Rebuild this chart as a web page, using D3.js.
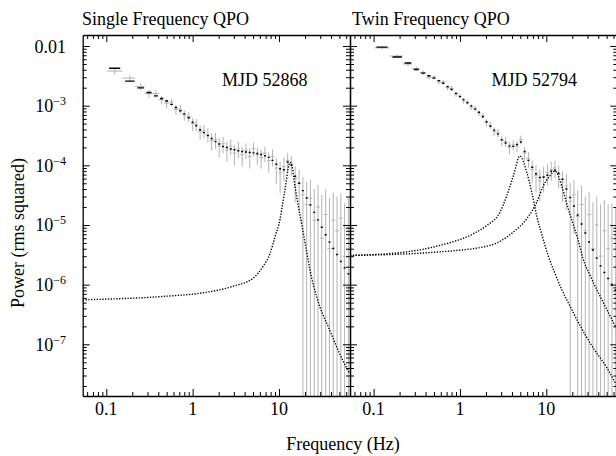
<!DOCTYPE html>
<html>
<head>
<meta charset="utf-8">
<script src="https://cdn.jsdelivr.net/npm/d3@7"></script>
<style>
  body { margin: 0; background: #fff; }
  svg { display: block; font-family: "Liberation Serif", "Times New Roman", serif; }
</style>
</head>
<body>
<svg id="chart" width="616" height="456"></svg>
<script>
// frequency bins (Hz), shared by both observations
const freqBins = [0.125, 0.1875, 0.25, 0.3125, 0.375, 0.4375, 0.5, 0.57, 0.64, 0.72,
  0.8, 0.9, 1.0, 1.1, 1.22, 1.35, 1.5, 1.66, 1.84, 2.03,
  2.25, 2.49, 2.76, 3.05, 3.38, 3.74, 4.14, 4.58, 5.07, 5.61,
  6.21, 6.87, 7.6, 8.41, 9.31, 10.3, 11.4, 12.6, 13.9, 15.4,
  17.1, 18.9, 20.9, 23.1, 25.6, 28.3, 31.3, 34.7, 38.4, 42.5,
  47.0, 52.0, 57.5, 63.6];

// MJD 52868 (single QPO)
const singlePower = [3.8e-3, 2.9e-3, 2.1e-3, 1.6e-3, 1.6e-3, 1.25e-3, 1.1e-3, 1.15e-3, 8.6e-4, 8.8e-4,
  7.0e-4, 6.6e-4, 5.0e-4, 4.9e-4, 3.7e-4, 3.8e-4, 3.3e-4, 2.6e-4, 2.7e-4, 2.1e-4,
  2.3e-4, 1.8e-4, 2.1e-4, 1.6e-4, 1.9e-4, 1.5e-4, 1.8e-4, 1.4e-4, 1.9e-4, 1.5e-4,
  1.35e-4, 1.6e-4, 1.2e-4, 1.4e-4, 9.0e-5, 7.5e-5, 9.5e-5, 1.2e-4, 1.05e-4, 6.0e-5,
  5.0e-5, 3.2e-5, 2.2e-5, 2.8e-5, 1.2e-5, 2.0e-5, 6.0e-6, 1.5e-5, 4.0e-6, 1.2e-5,
  8.0e-6, 1.3e-5, 3.0e-6, 9.0e-6];
const singleErr = [4.5e-4, 3.5e-4, 2.8e-4, 2.4e-4, 2.2e-4, 2.0e-4, 1.9e-4, 1.7e-4, 1.6e-4, 1.5e-4,
  1.4e-4, 1.3e-4, 1.2e-4, 1.1e-4, 1.0e-4, 9.5e-5, 9.0e-5, 8.5e-5, 8.0e-5, 7.5e-5,
  7.0e-5, 6.5e-5, 6.2e-5, 6.0e-5, 5.8e-5, 5.5e-5, 5.3e-5, 5.2e-5, 5.0e-5, 4.8e-5,
  4.7e-5, 4.6e-5, 4.5e-5, 4.4e-5, 4.2e-5, 4.1e-5, 4.0e-5, 3.9e-5, 3.8e-5, 3.6e-5,
  3.4e-5, 3.2e-5, 3.0e-5, 2.9e-5, 2.8e-5, 2.7e-5, 2.6e-5, 2.5e-5, 2.4e-5, 2.3e-5,
  2.2e-5, 2.1e-5, 2.0e-5, 2.0e-5];
const singleModel = [4.25e-3, 2.58e-3, 1.99e-3, 1.66e-3, 1.46e-3, 1.32e-3, 1.20e-3, 1.05e-3, 9.3e-4, 8.2e-4,
  7.3e-4, 6.27e-4, 5.28e-4, 4.61e-4, 3.96e-4, 3.53e-4, 3.15e-4, 2.81e-4, 2.50e-4, 2.28e-4,
  2.07e-4, 1.99e-4, 1.88e-4, 1.82e-4, 1.76e-4, 1.71e-4, 1.67e-4, 1.64e-4, 1.62e-4, 1.58e-4,
  1.52e-4, 1.45e-4, 1.36e-4, 1.21e-4, 1.04e-4, 8.75e-5, 8.42e-5, 1.14e-4, 1.00e-4, 6.56e-5,
  5.02e-5, 3.77e-5, 2.83e-5, 2.16e-5, 1.63e-5, 1.22e-5, 9.16e-6, 6.87e-6, 5.16e-6, 4.03e-6,
  3.20e-6, 2.45e-6, 1.91e-6, 1.52e-6];
const singleQpoFreq = [0.0533, 0.5, 1.22, 2.94, 5.0, 6.53, 7.87, 8.99, 10.3, 11.1,
  12.1, 12.7, 13.4, 14.2, 14.9, 16.2, 17.5, 19.0, 20.6, 22.9, 27.6, 39.0, 50.9, 64.7];
const singleQpoPower = [5.57e-7, 6.41e-7, 7.19e-7, 9.40e-7, 1.28e-6, 2.02e-6, 3.32e-6, 6.37e-6, 1.27e-5, 2.43e-5,
  5.22e-5, 8.57e-5, 1.12e-4, 9.62e-5, 5.85e-5, 2.72e-5, 1.48e-5, 7.7e-6, 4.03e-6, 1.73e-6,
  5.94e-7, 1.68e-7, 6.72e-8, 3.37e-8];

// MJD 52794 (twin QPO)
const twinPower = [9.3e-3, 6.8e-3, 5.0e-3, 4.2e-3, 3.6e-3, 3.0e-3, 3.0e-3, 2.5e-3, 2.5e-3, 2.0e-3,
  1.95e-3, 1.55e-3, 1.45e-3, 1.2e-3, 1.15e-3, 9.5e-4, 9.0e-4, 7.5e-4, 6.8e-4, 5.2e-4,
  4.7e-4, 3.7e-4, 3.5e-4, 2.6e-4, 2.5e-4, 2.0e-4, 2.2e-4, 2.1e-4, 2.7e-4, 1.6e-4,
  1.3e-4, 8.5e-5, 6.8e-5, 5.5e-5, 6.5e-5, 7.5e-5, 8.5e-5, 9.0e-5, 7.0e-5, 5.2e-5,
  4.5e-5, 2.5e-5, 3.2e-5, 1.4e-5, 2.2e-5, 8.0e-6, 1.5e-5, 4.0e-6, 1.0e-5, 3.0e-6,
  8.0e-6, 4.0e-6, 6.0e-6, 2.0e-6];
const twinErr = [6.0e-4, 5.0e-4, 4.0e-4, 3.4e-4, 3.0e-4, 2.7e-4, 2.5e-4, 2.2e-4, 2.0e-4, 1.8e-4,
  1.7e-4, 1.5e-4, 1.35e-4, 1.2e-4, 1.1e-4, 1.0e-4, 9.0e-5, 8.5e-5, 7.5e-5, 7.0e-5,
  6.2e-5, 5.8e-5, 5.5e-5, 5.0e-5, 4.8e-5, 4.5e-5, 4.4e-5, 4.4e-5, 4.5e-5, 4.2e-5,
  3.8e-5, 3.5e-5, 3.3e-5, 3.0e-5, 3.0e-5, 3.0e-5, 3.0e-5, 3.0e-5, 2.9e-5, 2.8e-5,
  2.7e-5, 2.6e-5, 2.5e-5, 2.4e-5, 2.3e-5, 2.2e-5, 2.1e-5, 2.0e-5, 2.0e-5, 1.9e-5,
  1.8e-5, 1.8e-5, 1.7e-5, 1.7e-5];
const twinModel = [9.6e-3, 6.54e-3, 5.20e-3, 4.04e-3, 3.51e-3, 3.18e-3, 2.90e-3, 2.63e-3, 2.37e-3, 2.09e-3,
  1.87e-3, 1.61e-3, 1.42e-3, 1.27e-3, 1.12e-3, 9.93e-4, 8.75e-4, 7.77e-4, 6.52e-4, 5.38e-4,
  4.53e-4, 3.89e-4, 3.34e-4, 2.70e-4, 2.37e-4, 2.12e-4, 2.08e-4, 2.23e-4, 2.46e-4, 1.71e-4,
  1.21e-4, 9.27e-5, 7.23e-5, 6.27e-5, 6.32e-5, 6.82e-5, 7.94e-5, 8.26e-5, 7.36e-5, 5.85e-5,
  4.01e-5, 2.89e-5, 2.08e-5, 1.47e-5, 1.04e-5, 7.34e-6, 5.19e-6, 3.81e-6, 2.80e-6, 2.06e-6,
  1.60e-6, 1.27e-6, 1.01e-6, 8.14e-7];
const twinQpo1Freq = [0.0533, 0.242, 0.588, 1.43, 2.04, 2.91, 3.48, 4.15, 4.96, 5.93,
  6.78, 7.74, 9.16, 10.5, 12.6, 15.2, 18.8, 22.7, 34.8, 50.1, 64.2];
const twinQpo1Power = [3.08e-6, 3.55e-6, 4.56e-6, 7.14e-6, 9.81e-6, 1.64e-5, 3.09e-5, 6.64e-5, 1.43e-4, 7.65e-5,
  3.56e-5, 1.42e-5, 5.90e-6, 3.08e-6, 1.55e-6, 8.07e-7, 4.38e-7, 2.56e-7, 8.77e-8, 4.08e-8, 2.13e-8];
const twinQpo2Freq = [0.0533, 0.588, 2.23, 4.15, 5.93, 7.74, 9.24, 11.0, 12.6, 15.1,
  16.9, 19.9, 23.3, 26.6, 32.1, 41.9, 51.9, 64.2];
const twinQpo2Power = [3.08e-6, 3.55e-6, 4.56e-6, 7.62e-6, 1.27e-5, 2.40e-5, 4.53e-5, 6.64e-5, 8.04e-5, 4.53e-5,
  2.52e-5, 1.17e-5, 5.68e-6, 2.74e-6, 1.43e-6, 6.41e-7, 3.48e-7, 1.89e-7];

// axes
const xTicks = [0.1, 1, 10];
const xTickLabels = ["0.1", "1", "10"];
const yTicks = [0.01, 1e-3, 1e-4, 1e-5, 1e-6, 1e-7];
const yTickLabels = ["0.01", "10|\u22123", "10|\u22124", "10|\u22125", "10|\u22126", "10|\u22127"];

const svg = d3.select("#chart");
const plotTop = 35, plotBottom = 396;
const xDomain = [0.0533, 66.4];
const yDomain = [1.36e-8, 0.0153];

const y = d3.scaleLog().domain(yDomain).range([plotBottom, plotTop]);

const panels = [
  {id: "single", x0: 82.7, x1: 350, power: singlePower, err: singleErr, model: singleModel,
   comps: [[singleQpoFreq, singleQpoPower]],
   title: "Single Frequency QPO", titleX: 82, mjd: "MJD 52868", mjdX: 222, yLabels: true},
  {id: "twin", x0: 350, x1: 617.3, power: twinPower, err: twinErr, model: twinModel,
   comps: [[twinQpo1Freq, twinQpo1Power], [twinQpo2Freq, twinQpo2Power]],
   title: "Twin Frequency QPO", titleX: 352, mjd: "MJD 52794", mjdX: 491.5, yLabels: false}
];

// bin edges from neighbouring bin centres (geometric midpoints)
const edges = freqBins.map((f, i) => {
  const lo = i > 0 ? Math.sqrt(freqBins[i - 1] * f) : f * f / Math.sqrt(f * freqBins[1]);
  const hi = i < freqBins.length - 1 ? Math.sqrt(f * freqBins[i + 1]) : f * f / Math.sqrt(freqBins[i - 1] * f);
  return [lo, hi];
});

panels.forEach(p => {
  const x = d3.scaleLog().domain(xDomain).range([p.x0, p.x1]);

  svg.append("clipPath").attr("id", "clip-" + p.id)
    .append("rect")
    .attr("x", p.x0).attr("y", plotTop)
    .attr("width", p.x1 - p.x0).attr("height", plotBottom - plotTop);

  const plot = svg.append("g").attr("clip-path", `url(#clip-${p.id})`);

  const bins = freqBins.map((f, i) => ({
    f, lo: edges[i][0], hi: edges[i][1],
    p: p.power[i], e: p.err[i], m: p.model[i]
  }));

  // data: grey crosses
  const data = plot.append("g").attr("stroke", "#b3b3b3").attr("stroke-width", 1);
  data.selectAll("line.xbar").data(bins).enter().append("line")
    .attr("class", "xbar")
    .attr("x1", d => x(d.lo)).attr("x2", d => x(d.hi))
    .attr("y1", d => y(d.p)).attr("y2", d => y(d.p));
  data.selectAll("line.ybar").data(bins).enter().append("line")
    .attr("class", "ybar")
    .attr("x1", d => x(d.f)).attr("x2", d => x(d.f))
    .attr("y1", d => y(d.p + d.e))
    .attr("y2", d => d.p - d.e > 0 ? y(d.p - d.e) : plotBottom + 5);

  // total model, one short black bar per bin
  plot.append("g").selectAll("line").data(bins).enter().append("line")
    .attr("x1", d => x(d.f) - Math.max(0.7, 0.4 * (x(d.hi) - x(d.lo)) - 0.5))
    .attr("x2", d => x(d.f) + Math.max(0.7, 0.4 * (x(d.hi) - x(d.lo)) - 0.5))
    .attr("y1", d => y(d.m)).attr("y2", d => y(d.m))
    .attr("stroke", "#000").attr("stroke-width", 1.4);

  // QPO components, dotted
  const line = d3.line()
    .x(d => x(d[0])).y(d => y(d[1]))
    .curve(d3.curveMonotoneX);
  p.comps.forEach(([fs, ps]) => {
    plot.append("path")
      .attr("d", line(fs.map((f, i) => [f, ps[i]])))
      .attr("fill", "none")
      .attr("stroke", "#000")
      .attr("stroke-width", 1.4)
      .attr("stroke-dasharray", "1.3 1.5");
  });

  // frame with inward ticks on all four sides
  const xMinor = x.ticks().filter(t => !xTicks.some(m => Math.abs(m - t) / m < 1e-6));
  const yMinor = y.ticks().filter(t => !yTicks.some(m => Math.abs(m - t) / m < 1e-6));

  const axes = [
    [d3.axisBottom(x), `translate(0,${plotBottom})`, xTicks, xMinor],
    [d3.axisTop(x), `translate(0,${plotTop})`, xTicks, xMinor],
    [d3.axisLeft(y), `translate(${p.x0},0)`, yTicks, yMinor],
    [d3.axisRight(y), `translate(${p.x1},0)`, yTicks, yMinor]
  ];
  axes.forEach(([axis, tr, major, minor]) => {
    const gMaj = svg.append("g").attr("transform", tr)
      .call(axis.tickValues(major).tickSize(-7).tickSizeOuter(0).tickFormat(""));
    gMaj.select(".domain").attr("stroke", "#000").attr("stroke-width", 1.3);
    gMaj.selectAll(".tick line").attr("stroke", "#000").attr("stroke-width", 1);
    const gMin = svg.append("g").attr("transform", tr)
      .call(axis.tickValues(minor).tickSize(-4).tickSizeOuter(0).tickFormat(""));
    gMin.select(".domain").remove();
    gMin.selectAll(".tick line").attr("stroke", "#000").attr("stroke-width", 1);
  });

  // x tick labels
  svg.append("g").selectAll("text").data(xTicks).enter().append("text")
    .attr("x", d => x(d)).attr("y", 415)
    .attr("text-anchor", "middle")
    .attr("font-size", 18)
    .text((d, i) => xTickLabels[i]);

  // y tick labels (left panel only)
  if (p.yLabels) {
    const yl = svg.append("g").selectAll("text").data(yTicks).enter().append("text")
      .attr("x", 66).attr("y", d => y(d) + 6.5)
      .attr("text-anchor", "end")
      .attr("font-size", 18);
    yl.each(function(d, i) {
      const parts = yTickLabels[i].split("|");
      const t = d3.select(this);
      t.append("tspan").text(parts[0]);
      if (parts[1]) {
        t.append("tspan").attr("font-size", 12).attr("dy", -7).text(parts[1]);
      }
    });
  }

  svg.append("text").attr("x", p.titleX).attr("y", 25)
    .attr("font-size", 18).text(p.title);
  svg.append("text").attr("x", p.mjdX).attr("y", 86)
    .attr("font-size", 18).text(p.mjd);
});

svg.append("text")
  .attr("x", 343).attr("y", 450)
  .attr("text-anchor", "middle")
  .attr("font-size", 18)
  .text("Frequency (Hz)");

svg.append("text")
  .attr("transform", "translate(24,233) rotate(-90)")
  .attr("text-anchor", "middle")
  .attr("font-size", 18)
  .text("Power (rms squared)");
</script>
</body>
</html>
